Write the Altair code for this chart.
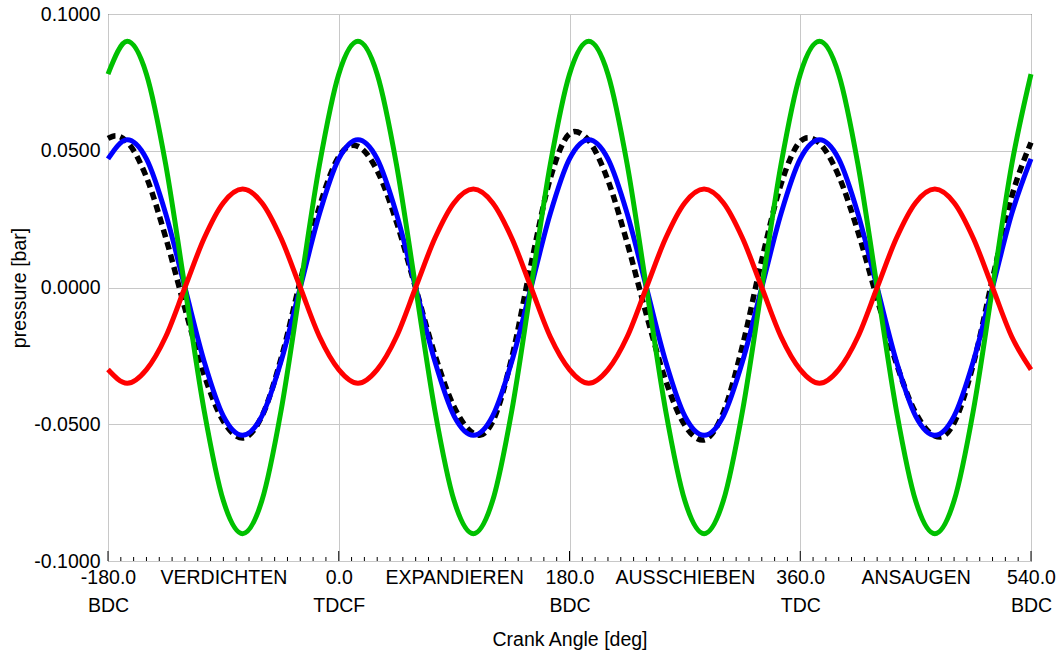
import json
import altair as alt
import pandas as pd

# Crank angle grid (deg) shared by the three smooth traces
angle = list(range(-180, 541, 15))

green = [0.078, 0.090, 0.078, 0.045, 0.000, -0.045, -0.078, -0.090, -0.078, -0.045, 0.000, 0.045,
         0.078, 0.090, 0.078, 0.045, 0.000, -0.045, -0.078, -0.090, -0.078, -0.045, 0.000, 0.045,
         0.078, 0.090, 0.078, 0.045, 0.000, -0.045, -0.078, -0.090, -0.078, -0.045, 0.000, 0.045,
         0.078, 0.090, 0.078, 0.045, 0.000, -0.045, -0.078, -0.090, -0.078, -0.045, 0.000, 0.045,
         0.078]

blue = [0.047, 0.054, 0.047, 0.027, 0.000, -0.027, -0.047, -0.054, -0.047, -0.027, 0.000, 0.027,
        0.047, 0.054, 0.047, 0.027, 0.000, -0.027, -0.047, -0.054, -0.047, -0.027, 0.000, 0.027,
        0.047, 0.054, 0.047, 0.027, 0.000, -0.027, -0.047, -0.054, -0.047, -0.027, 0.000, 0.027,
        0.047, 0.054, 0.047, 0.027, 0.000, -0.027, -0.047, -0.054, -0.047, -0.027, 0.000, 0.027,
        0.047]

red = [-0.030, -0.035, -0.030, -0.018, 0.000, 0.018, 0.031, 0.036, 0.031, 0.018, 0.000, -0.018,
       -0.030, -0.035, -0.030, -0.018, 0.000, 0.018, 0.031, 0.036, 0.031, 0.018, 0.000, -0.018,
       -0.030, -0.035, -0.030, -0.018, 0.000, 0.018, 0.031, 0.036, 0.031, 0.018, 0.000, -0.018,
       -0.030, -0.035, -0.030, -0.018, 0.000, 0.018, 0.031, 0.036, 0.031, 0.018, 0.000, -0.018,
       -0.030]

# Measured trace (dashed), sampled at its own angles
black_angle = [-180, -174, -165, -150, -135, -120, -105, -90, -75, -60, -45, -30, -15, 0, 11, 15,
               30, 45, 60, 75, 90, 105, 110, 120, 135, 150, 165, 180, 184, 195, 210, 225, 240,
               255, 270, 284, 300, 315, 330, 345, 360, 366, 375, 390, 405, 420, 435, 450, 465,
               469, 480, 495, 510, 525, 540]
black = [0.0545, 0.0555, 0.0532, 0.0403, 0.0183, -0.0076, -0.0319, -0.0489, -0.0550, -0.0471,
         -0.0260, 0.0024, 0.0296, 0.0478, 0.0520, 0.0516, 0.0427, 0.0240, -0.0002, -0.0246,
         -0.0437, -0.0533, -0.0540, -0.0491, -0.0256, 0.0085, 0.0399, 0.0562, 0.0570, 0.0537,
         0.0392, 0.0163, -0.0099, -0.0340, -0.0504, -0.0558, -0.0457, -0.0212, 0.0101, 0.0378,
         0.0534, 0.0548, 0.0528, 0.0408, 0.0204, -0.0042, -0.0278, -0.0458, -0.0543, -0.0547,
         -0.0495, -0.0280, 0.0032, 0.0333, 0.0530]

# Axis labelling
x_ticks = [-180, -90, 0, 90, 180, 270, 360, 450, 540]
x_line1 = ["-180.0", "VERDICHTEN", "0.0", "EXPANDIEREN", "180.0", "AUSSCHIEBEN", "360.0", "ANSAUGEN", "540.0"]
x_line2 = ["BDC", "", "TDCF", "", "BDC", "", "TDC", "", "BDC"]
y_ticks = [-0.1, -0.05, 0.0, 0.05, 0.1]
minor_ticks = [a for a in range(-180, 541, 10) if a % 180 != 0]
major_ticks = [-180, 0, 180, 360, 540]

FONT = "Liberation Sans"
SIZE = 19.5

labels = [[a, b] if b else [a] for a, b in zip(x_line1, x_line2)]
label_expr = "{}[indexof({}, datum.value)]".format(json.dumps(labels), json.dumps(x_ticks))

x_enc = alt.X(
    "angle:Q",
    scale=alt.Scale(domain=[-180, 540], nice=False, zero=False),
    axis=alt.Axis(
        values=x_ticks,
        labelExpr=label_expr,
        title="Crank Angle [deg]",
        grid=True,
        gridColor=alt.condition("datum.value % 180 === 0", alt.value("#c8c8c8"), alt.value("transparent")),
        ticks=False,
        domain=False,
        labelFont=FONT,
        labelFontSize=SIZE,
        labelColor="black",
        labelBaseline="top",
        labelLineHeight=28,
        labelPadding=7,
        labelOverlap=False,
        labelFlush=False,
        labelBound=False,
        titleFont=FONT,
        titleFontSize=SIZE,
        titleFontWeight="normal",
        titleColor="black",
        titleBaseline="alphabetic",
        titleY=84,
    ),
)

y_enc = alt.Y(
    "p:Q",
    scale=alt.Scale(domain=[-0.1, 0.1], nice=False, zero=False),
    axis=alt.Axis(
        values=y_ticks,
        labelExpr="replace(format(datum.value, '.4f'), '\u2212', '-')",
        title="pressure [bar]",
        grid=True,
        gridColor="#c8c8c8",
        ticks=False,
        domain=False,
        labelFont=FONT,
        labelFontSize=SIZE,
        labelColor="black",
        labelPadding=8,
        titleFont=FONT,
        titleFontSize=SIZE,
        titleFontWeight="normal",
        titleColor="black",
        titleX=-83,
        titleBaseline="alphabetic",
    ),
)


def trace(xs, ys, color, dash=None, width=5):
    df = pd.DataFrame({"angle": xs, "p": ys})
    kw = dict(color=color, strokeWidth=width, interpolate="monotone")
    if dash:
        kw["strokeDash"] = dash
    return alt.Chart(df).mark_line(**kw).encode(x=x_enc, y=y_enc)


minor = alt.Chart(pd.DataFrame({"angle": minor_ticks})).mark_rule(color="black", strokeWidth=1).encode(
    x=x_enc, y=alt.value(547), y2=alt.value(543)
)
major = alt.Chart(pd.DataFrame({"angle": major_ticks})).mark_rule(color="black", strokeWidth=1).encode(
    x=x_enc, y=alt.value(547), y2=alt.value(537)
)

chart = alt.layer(
    minor,
    major,
    trace(black_angle, black, "black", [8, 5], width=5.5),
    trace(angle, blue, "#0000ff"),
    trace(angle, green, "#00c000"),
    trace(angle, red, "#ff0000"),
).properties(
    width=923,
    height=547,
    autosize=alt.AutoSizeParams(type="none"),
    padding={"left": 108, "top": 14, "right": 31, "bottom": 92},
    background="white",
).configure_view(stroke="black", strokeWidth=1)

chart.save("out.html", embed_options={"renderer": "svg", "actions": False})
